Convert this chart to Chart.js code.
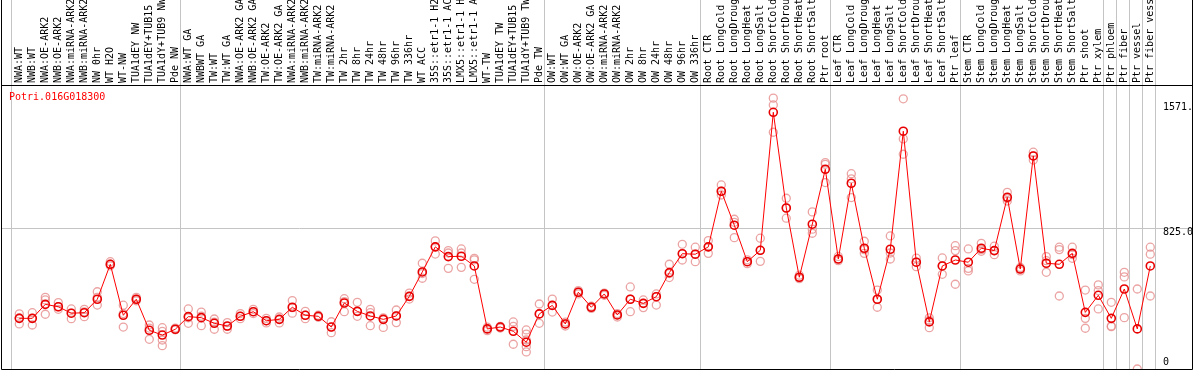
<!DOCTYPE html>
<html>
<head>
<meta charset="utf-8">
<script src="https://cdn.jsdelivr.net/npm/chart.js@4/dist/chart.umd.min.js"></script>
<style>
  html, body { margin: 0; padding: 0; background: #fff; }
  #wrap { width: 1194px; height: 370px; }
</style>
</head>
<body>
<div id="wrap"><canvas id="c" width="1194" height="370"></canvas></div>
<script>
const geneLabel = "Potri.016G018300";

const categories = [
  "NWA:WT","NWB:WT","NWA:OE-ARK2","NWB:OE-ARK2","NWA:miRNA-ARK2","NWB:miRNA-ARK2","NW 0hr","WT H2O","WT-NW",
  "TUA1dEY NW","TUA1dEY+TUB15","TUA1dY+TUB9 NW","Pde NW",
  "NWA:WT GA","NWBWT GA","TW:WT","TW:WT GA","NWA:OE-ARK2 GA","NWB:OE-ARK2 GA","TW:OE-ARK2","TW:OE-ARK2 GA",
  "NWA:miRNA-ARK2 GA","NWB:miRNA-ARK2 GA","TW:miRNA-ARK2","TW:miRNA-ARK2 GA","TW 2hr","TW 8hr","TW 24hr","TW 48hr",
  "TW 96hr","TW 336hr","WT ACC","35S::etr1-1 H2O","35S::etr1-1 ACC","LMX5::etr1-1 H2O","LMX5::etr1-1 ACC","WT-TW",
  "TUA1dEY TW","TUA1dEY+TUB15","TUA1dY+TUB9 TW","Pde TW",
  "OW:WT","OW:WT GA","OW:OE-ARK2","OW:OE-ARK2 GA","OW:miRNA-ARK2","OW:miRNA-ARK2 GA","OW 2hr","OW 8hr","OW 24hr",
  "OW 48hr","OW 96hr","OW 336hr",
  "Root CTR","Root LongCold","Root LongDrought","Root LongHeat","Root LongSalt","Root ShortCold","Root ShortDrought",
  "Root ShortHeat","Root ShortSalt","Ptr root",
  "Leaf CTR","Leaf LongCold","Leaf LongDrought","Leaf LongHeat","Leaf LongSalt","Leaf ShortCold","Leaf ShortDrought",
  "Leaf ShortHeat","Leaf ShortSalt","Ptr leaf",
  "Stem CTR","Stem LongCold","Stem LongDrought","Stem LongHeat","Stem LongSalt","Stem ShortCold","Stem ShortDrought",
  "Stem ShortHeat","Stem ShortSalt","Ptr shoot","Ptr xylem",
  "Ptr phloem","Ptr fiber","Ptr vessel","Ptr fiber vessel"
];

const meanValues = [
  297,297,379,365,327,330,409,614,315,409,227,199,233,
  307,301,268,252,309,336,283,291,362,315,309,246,387,338,311,291,311,426,569,716,659,661,604,235,246,221,157,323,
  373,264,450,362,440,317,409,385,424,565,676,673,
  716,1042,843,629,696,1505,944,538,849,1171,
  645,1089,708,409,702,1394,626,276,604,639,
  626,708,694,1007,586,1249,620,614,678,332,432,
  297,469,235,604
];

const replicateValues = [
  [323,299,264],[330,297,258],[420,405,321],[389,365,350],[352,327,295],[350,335,307],[453,420,375],[629,614,605],
  [374,325,246],[420,409,400],[258,240,174],[242,220,170,137],[240,230],
  [352,300,268],[334,310,254],[293,275,233],[272,250,233],[325,309,295],[350,336,325],[297,283,270],[305,291,270],
  [401,360,327],[338,315,295],[315,309,303],[277,246,213],[412,395,336],[391,338,309],[350,330,254],[300,291,244],
  [346,311,272],[445,426,410],[620,560,532],[751,716,674],[694,680,590],[704,680,596],[649,640,526],[245,235,225],
  [250,246,240],[276,250,145],[229,205,170,131,100],[381,323,268],
  [410,373,334],[275,264,252],[460,450,440],[368,362,355],[445,440,432],[325,317,305],[481,409,336],[405,385,360],
  [440,424,375],[614,560,536],[731,676,639],[714,673,629],
  [753,716,678],[1079,1042,1020],[878,860,770],[640,629,618],[767,696,631],[1588,1548,1388],[1001,944,884],
  [550,538,530],[921,820,796],[1210,1200,1093],
  [660,645,635],[1145,1115,1005],[749,700,678],[463,409,362],[780,680,645],[1584,1349,1259],[650,626,600],
  [300,285,242],[651,604,555],[723,694,497],
  [704,590,575],[737,700,690],[720,694,670],[1036,1000,985],[595,586,575],[1271,1250,1225],[659,635,567],
  [714,700,428],[714,670,649],[463,297,239],[493,460,352],
  [391,252,248],[567,540,301],[469,0],[714,673,428]
];

// index of first category in each group (vertical separators)
const groupStarts = [0, 13, 41, 53, 63, 73, 84, 85, 86, 87, 88];
const yTickValues = [0, 825, 1571];
const yTickLabels = ["0", "825.0", "1571."];
const gridValue = 825;

const meanData = meanValues.map((v, i) => ({ x: i, y: v }));
const repData = [];
replicateValues.forEach((arr, i) => arr.forEach(v => repData.push({ x: i, y: v })));

const FONT = "'DejaVu Sans Mono', 'Liberation Mono', monospace";

const decorPlugin = {
  id: 'decor',
  beforeDraw(chart) {
    const { ctx, scales: { x, y }, chartArea: ca } = chart;
    ctx.save();
    ctx.fillStyle = '#fff';
    ctx.fillRect(0, 0, chart.width, chart.height);
    ctx.strokeStyle = '#c4c4c4';
    ctx.lineWidth = 1;
    groupStarts.forEach(g => {
      const px = Math.round(x.getPixelForValue(g - 0.64)) + 0.5;
      ctx.beginPath(); ctx.moveTo(px, 0); ctx.lineTo(px, ca.bottom); ctx.stroke();
    });
    const gy = Math.round(y.getPixelForValue(gridValue)) + 0.5;
    ctx.beginPath(); ctx.moveTo(ca.left, gy); ctx.lineTo(ca.right, gy); ctx.stroke();
    ctx.restore();
  },
  afterDraw(chart) {
    const { ctx, scales: { x, y }, chartArea: ca } = chart;
    ctx.save();
    // frame
    ctx.strokeStyle = '#000';
    ctx.lineWidth = 1;
    ctx.beginPath();
    ctx.moveTo(1.5, 0); ctx.lineTo(1.5, ca.bottom + 0.5);
    ctx.lineTo(ca.right + 0.5, ca.bottom + 0.5); ctx.lineTo(ca.right + 0.5, 0);
    ctx.moveTo(1, ca.top + 0.5); ctx.lineTo(ca.right + 1, ca.top + 0.5);
    ctx.stroke();
    // gene label
    ctx.fillStyle = '#ff0000';
    ctx.font = "10px " + FONT;
    ctx.textAlign = 'left';
    ctx.textBaseline = 'middle';
    ctx.fillText(geneLabel, 9, 97.5);
    // y tick labels (clipped at the right frame)
    ctx.beginPath();
    ctx.rect(ca.left, ca.top + 1, ca.right - ca.left, ca.bottom - ca.top - 1);
    ctx.clip();
    ctx.fillStyle = '#000';
    const lx = Math.round(x.getPixelForValue(88.0));
    yTickValues.forEach((v, i) => {
      const py = y.getPixelForValue(v);
      if (v === 0) {
        ctx.textBaseline = 'bottom';
        ctx.fillText(yTickLabels[i], lx, py - 2);
      } else {
        ctx.textBaseline = 'top';
        ctx.fillText(yTickLabels[i], lx, py + (v === gridValue ? -1 : 1));
      }
    });
    ctx.restore();
  }
};

new Chart(document.getElementById('c'), {
  type: 'line',
  data: {
    datasets: [
      {
        label: 'mean',
        data: meanData,
        order: 0,
        borderColor: '#ff0000',
        borderWidth: 1,
        pointStyle: 'circle',
        pointRadius: 4,
        pointBorderWidth: 1.6,
        pointBorderColor: '#e80000',
        pointBackgroundColor: 'rgba(0,0,0,0)',
        tension: 0
      },
      {
        label: 'replicates',
        data: repData,
        order: 1,
        showLine: false,
        pointStyle: 'circle',
        pointRadius: 4,
        pointBorderWidth: 1.3,
        pointBorderColor: 'rgba(230,140,140,0.8)',
        pointBackgroundColor: 'rgba(0,0,0,0)'
      }
    ]
  },
  options: {
    responsive: false,
    animation: false,
    devicePixelRatio: 1,
    layout: { autoPadding: false, padding: { left: 2, right: 2, top: 0, bottom: 1 } },
    plugins: { legend: { display: false }, tooltip: { enabled: false } },
    scales: {
      x: {
        type: 'linear',
        position: 'top',
        min: -1.3308,
        max: 90.208,
        grid: { display: false, drawTicks: false },
        border: { display: false },
        afterBuildTicks: (s) => { s.ticks = categories.map((c, i) => ({ value: i })); },
        afterFit: (s) => { s.height = 85; s.paddingLeft = 0; s.paddingRight = 0; s.paddingTop = 0; s.paddingBottom = 0; },
        ticks: {
          autoSkip: false,
          minRotation: 90,
          maxRotation: 90,
          padding: 2,
          labelOffset: 12,
          color: '#000',
          font: { family: FONT, size: 10 },
          callback: (v) => categories[v]
        }
      },
      y: {
        type: 'linear',
        display: false,
        min: 0,
        max: 1665
      }
    }
  },
  plugins: [decorPlugin]
});
</script>
</body>
</html>
